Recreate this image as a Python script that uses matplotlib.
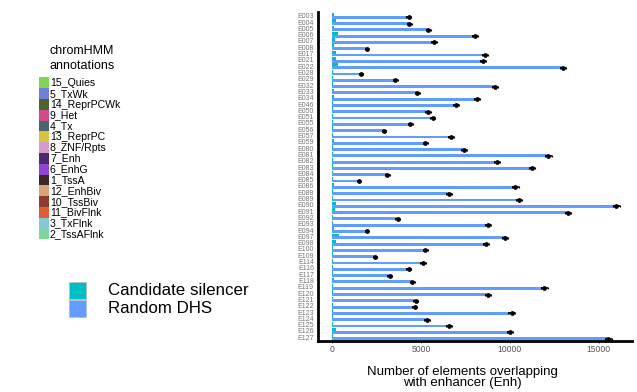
"""
Horizontal dodged bars: candidate silencers vs random DHS overlapping Enh, per epigenome.
Left side: chromHMM colour key + bar legend.
"""

import matplotlib
matplotlib.use('Agg')
import matplotlib.pyplot as plt
from matplotlib.patches import Rectangle
import numpy as np

plt.rcParams['font.family'] = ['Liberation Sans', 'DejaVu Sans']

# === data ===
epigenomes = ['E003', 'E004', 'E005', 'E006', 'E007', 'E008', 'E017', 'E021', 'E022',
              'E028', 'E029', 'E032', 'E033', 'E034', 'E046', 'E050', 'E051', 'E055',
              'E056', 'E057', 'E059', 'E080', 'E081', 'E082', 'E083', 'E084', 'E085',
              'E086', 'E088', 'E089', 'E090', 'E091', 'E092', 'E093', 'E094', 'E097',
              'E098', 'E100', 'E109', 'E114', 'E116', 'E117', 'E118', 'E119', 'E120',
              'E121', 'E122', 'E123', 'E124', 'E125', 'E126', 'E127']

random_dhs = [4330, 4350, 5420, 8065, 5740, 1950, 8590, 8480, 13000,
              1630, 3565, 9155, 4800, 8140, 6960, 5400, 5665, 4390,
              2905, 6680, 5250, 7430, 12170, 9270, 11255, 3115, 1500,
              10320, 6600, 10505, 16000, 13280, 3695, 8760, 1950, 9720,
              8665, 5250, 2420, 5120, 4330, 3245, 4520, 11950, 8800,
              4710, 4650, 10110, 5345, 6565, 10000, 15550]

random_dhs_sd = [140, 140, 150, 170, 150, 100, 170, 170, 190,
                 100, 130, 170, 140, 170, 160, 150, 150, 140,
                 120, 160, 150, 160, 190, 170, 180, 130, 100,
                 180, 160, 180, 200, 190, 130, 170, 100, 180,
                 170, 150, 110, 150, 140, 130, 140, 190, 170,
                 140, 140, 180, 150, 160, 180, 200]

candidate_silencer = [95, 225, 130, 320, 150, 95, 205, 205, 320,
                      40, 40, 40, 95, 95, 40, 40, 50, 40,
                      60, 40, 110, 40, 40, 40, 40, 50, 40,
                      110, 50, 40, 225, 170, 40, 55, 110, 395,
                      225, 60, 40, 40, 40, 50, 110, 55, 40,
                      40, 50, 75, 40, 40, 225, 40]

x_ticks = [0, 5000, 10000, 15000]

chromhmm_states = ['15_Quies', '5_TxWk', '14_ReprPCWk', '9_Het', '4_Tx', '13_ReprPC',
                   '8_ZNF/Rpts', '7_Enh', '6_EnhG', '1_TssA', '12_EnhBiv', '10_TssBiv',
                   '11_BivFlnk', '3_TxFlnk', '2_TssAFlnk']
chromhmm_colors = ['#7ED653', '#6F80D2', '#4E6229', '#D24A8C', '#4A656E', '#D6C244',
                   '#D49CCB', '#4A2A6C', '#8E45D1', '#3D2628', '#D6A676', '#8C3B33',
                   '#E05B37', '#86C7D1', '#7DD699']

group_names = ['Candidate silencer', 'Random DHS']
group_colors = ['#00BFC4', '#619CFF']

# === figure ===
W, H = 637, 392
fig = plt.figure(figsize=(W / 100, H / 100), dpi=100)

# main axes (pixel box: x 318..632, y 12..341)
ax = fig.add_axes([318 / W, 1 - 341 / H, (632 - 318) / W, (341 - 12) / H])

y = np.arange(len(epigenomes))
bh = 0.45
ax.barh(y - bh / 2, candidate_silencer, height=bh, color=group_colors[0], zorder=2)
ax.barh(y + bh / 2, random_dhs, height=bh, color=group_colors[1], zorder=2)
ax.errorbar(random_dhs, y + bh / 2, xerr=random_dhs_sd, fmt='o', color='black',
            markersize=2.4, elinewidth=1.2, capsize=1.0, capthick=0.8, zorder=3)

ax.set_ylim(len(epigenomes) - 0.4, -0.6)
ax.set_xlim(-790, 16880)
ax.set_yticks(y)
ax.set_yticklabels(epigenomes, fontsize=5.0, color='#777777')
ax.set_xticks(x_ticks)
ax.set_xticklabels([str(t) for t in x_ticks], fontsize=6.2, color='#555555')
ax.tick_params(axis='y', length=0, pad=3)
ax.tick_params(axis='x', length=1.5, width=0.6, color='#333333', pad=1.5)

for s in ['top', 'right']:
    ax.spines[s].set_visible(False)
for s in ['left', 'bottom']:
    ax.spines[s].set_linewidth(2.0)
    ax.spines[s].set_color('black')

ax.set_xlabel('Number of elements overlapping\nwith enhancer (Enh)', fontsize=9.5,
              linespacing=0.92)
ax.xaxis.set_label_coords(0.46, -0.075, transform=ax.transAxes)
ax.xaxis.label.set_va('top')

# === legends, drawn in pixel coordinates on an overlay ===
lg = fig.add_axes([0, 0, 1, 1])
lg.set_xlim(0, W)
lg.set_ylim(H, 0)
lg.axis('off')

lg.text(50, 58.5, 'chromHMM\nannotations', fontsize=9, va='center', ha='left',
        linespacing=1.35)

key_top, key_h = 77.3, 10.8
for i, (name, col) in enumerate(zip(chromhmm_states, chromhmm_colors)):
    ytop = key_top + i * key_h
    lg.add_patch(Rectangle((39, ytop), 9.7, key_h, facecolor=col, edgecolor='none'))
    lg.text(50, ytop + key_h / 2 + 0.3, name, fontsize=7.6, va='center', ha='left')

for i, (name, col) in enumerate(zip(group_names, group_colors)):
    ytop = 281.7 + i * 18.3
    lg.add_patch(Rectangle((69, ytop), 17, 17, facecolor=col, edgecolor='#BBBBBB',
                           linewidth=0.5))
    lg.text(108, ytop + 8.5, name, fontsize=12.2, va='center', ha='left')

fig.savefig('out.png', dpi=100)
